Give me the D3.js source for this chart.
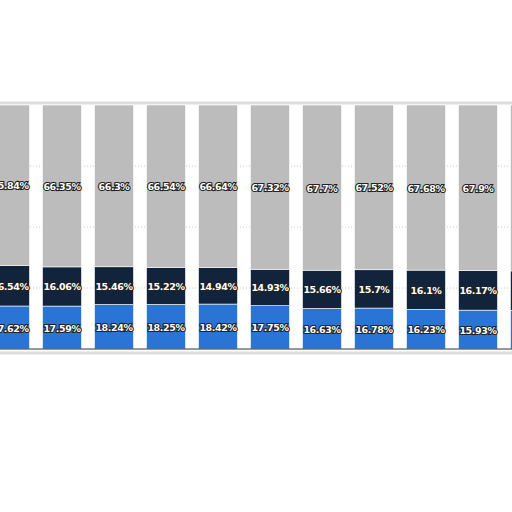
<!DOCTYPE html>
<html><head><meta charset="utf-8">
<script src="https://cdn.jsdelivr.net/npm/d3@7"></script>
<style>body{margin:0;background:#fff}</style>
</head><body>
<svg id="c" width="512" height="512"></svg>
<script>
const periods = d3.range(12);
const blueVals = [17.62, 17.59, 18.24, 18.25, 18.42, 17.75, 16.63, 16.78, 16.23, 15.93, 15.8, 15.8];
const navyVals = [16.54, 16.06, 15.46, 15.22, 14.94, 14.93, 15.66, 15.7, 16.1, 16.17, 16.2, 16.2];
const grayVals = [65.84, 66.35, 66.3, 66.54, 66.64, 67.32, 67.7, 67.52, 67.68, 67.9, 68.0, 68.0];
const yTicks = [25, 50, 75];

const svg = d3.select('#c');
const x = d3.scaleBand().domain(periods).range([-16, 608]).paddingInner(0.25).paddingOuter(0.125);
const y = d3.scaleLinear().domain([0, 100]).range([349, 105]);

// frame
svg.append('rect').attr('x', -5).attr('y', 103).attr('width', 520).attr('height', 250)
  .attr('fill', '#fff').attr('stroke', '#ddd').attr('stroke-width', 3);

svg.append('g').selectAll('line').data(yTicks).join('line')
  .attr('x1', 0).attr('x2', 512).attr('y1', d => y(d)).attr('y2', d => y(d))
  .attr('stroke', '#ccc').attr('stroke-dasharray', '1,2');

const rows = periods.map(i => ({ i, parts: [
  { v: blueVals[i], c: '#2a74d5' }, { v: navyVals[i], c: '#11243b' }, { v: grayVals[i], c: '#bcbcbc' }] }));

const g = svg.append('g');
rows.forEach(r => {
  let acc = 0;
  r.parts.forEach(p => {
    const y0 = acc, y1 = acc + p.v; acc = y1;
    g.append('rect').attr('x', x(r.i)).attr('width', x.bandwidth())
      .attr('y', y(y1)).attr('height', y(y0) - y(y1)).attr('fill', p.c)
      .attr('stroke', '#fff').attr('stroke-width', 0.6);
    g.append('text').attr('x', x(r.i) + x.bandwidth() / 2)
      .attr('y', y((y0 + y1) / 2) + 4).attr('text-anchor', 'middle')
      .attr('font-family', 'DejaVu Sans, sans-serif').attr('font-size', 9.5).attr('font-weight', 'bold')
      .attr('fill', '#fff').attr('stroke', '#222').attr('stroke-width', 2.2)
      .attr('paint-order', 'stroke').attr('letter-spacing', -0.4)
      .text(p.v + '%');
  });
});

svg.append('line').attr('x1', 0).attr('x2', 512).attr('y1', y(0)).attr('y2', y(0))
  .attr('stroke', '#333').attr('stroke-width', 1);
</script>
</body></html>
